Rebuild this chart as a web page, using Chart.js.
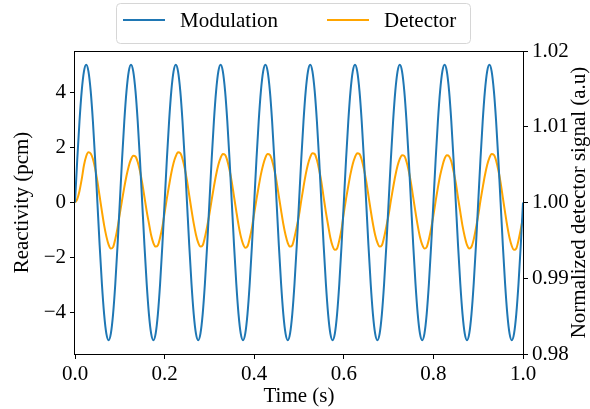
<!DOCTYPE html>
<html>
<head>
<meta charset="utf-8">
<script src="https://cdn.jsdelivr.net/npm/chart.js@4/dist/chart.umd.min.js"></script>
<style>
  html, body { margin: 0; padding: 0; background: #fff; }
</style>
</head>
<body>
<canvas id="chart" width="590" height="409"></canvas>
<script>
// Sampled every 5 ms over 0..1 s.
const SAMPLE_STEP = 0.005;

// Reactivity modulation (pcm).
const modulation = [
	0, 1.55, 2.94, 4.05, 4.76, 5, 4.76, 4.05, 2.94, 1.55, 0, -1.55, -2.94, -4.05, -4.76, -5, -4.76, -4.05, -2.94, -1.55,
	0, 1.55, 2.94, 4.05, 4.76, 5, 4.76, 4.05, 2.94, 1.55, 0, -1.55, -2.94, -4.05, -4.76, -5, -4.76, -4.05, -2.94, -1.55,
	0, 1.55, 2.94, 4.05, 4.76, 5, 4.76, 4.05, 2.94, 1.55, 0, -1.55, -2.94, -4.05, -4.76, -5, -4.76, -4.05, -2.94, -1.55,
	0, 1.55, 2.94, 4.05, 4.76, 5, 4.76, 4.05, 2.94, 1.55, 0, -1.55, -2.94, -4.05, -4.76, -5, -4.76, -4.05, -2.94, -1.55,
	0, 1.55, 2.94, 4.05, 4.76, 5, 4.76, 4.05, 2.94, 1.55, 0, -1.55, -2.94, -4.05, -4.76, -5, -4.76, -4.05, -2.94, -1.55,
	0, 1.55, 2.94, 4.05, 4.76, 5, 4.76, 4.05, 2.94, 1.55, 0, -1.55, -2.94, -4.05, -4.76, -5, -4.76, -4.05, -2.94, -1.55,
	0, 1.55, 2.94, 4.05, 4.76, 5, 4.76, 4.05, 2.94, 1.55, 0, -1.55, -2.94, -4.05, -4.76, -5, -4.76, -4.05, -2.94, -1.55,
	0, 1.55, 2.94, 4.05, 4.76, 5, 4.76, 4.05, 2.94, 1.55, 0, -1.55, -2.94, -4.05, -4.76, -5, -4.76, -4.05, -2.94, -1.55,
	0, 1.55, 2.94, 4.05, 4.76, 5, 4.76, 4.05, 2.94, 1.55, 0, -1.55, -2.94, -4.05, -4.76, -5, -4.76, -4.05, -2.94, -1.55,
	0, 1.55, 2.94, 4.05, 4.76, 5, 4.76, 4.05, 2.94, 1.55, 0, -1.55, -2.94, -4.05, -4.76, -5, -4.76, -4.05, -2.94, -1.55,
	0,
];

// Normalized detector signal (a.u).
const detector = [
	1.00000, 1.00044, 1.00153, 1.00309, 1.00491, 1.00611, 1.00662, 1.00647, 1.00575, 1.00447, 1.00280, 1.00084, 0.99887, 0.99702, 0.99553, 0.99444, 0.99393, 0.99411, 0.99520, 0.99665,
	0.99851, 1.00029, 1.00200, 1.00353, 1.00480, 1.00571, 1.00618, 1.00607, 1.00535, 1.00415, 1.00258, 1.00073, 0.99887, 0.99725, 0.99567, 0.99465, 0.99418, 0.99436, 0.99538, 0.99676,
	0.99865, 1.00051, 1.00225, 1.00389, 1.00520, 1.00611, 1.00662, 1.00651, 1.00575, 1.00451, 1.00287, 1.00095, 0.99902, 0.99724, 0.99575, 0.99469, 0.99418, 0.99436, 0.99542, 0.99684,
	0.99847, 1.00033, 1.00207, 1.00367, 1.00498, 1.00589, 1.00640, 1.00629, 1.00553, 1.00429, 1.00269, 1.00076, 0.99887, 0.99705, 0.99556, 0.99455, 0.99404, 0.99422, 0.99527, 0.99669,
	0.99858, 1.00040, 1.00211, 1.00371, 1.00498, 1.00593, 1.00640, 1.00629, 1.00553, 1.00433, 1.00273, 1.00084, 0.99895, 0.99716, 0.99571, 0.99465, 0.99418, 0.99436, 0.99542, 0.99680,
	0.99833, 1.00025, 1.00204, 1.00371, 1.00505, 1.00600, 1.00651, 1.00640, 1.00560, 1.00433, 1.00269, 1.00069, 0.99873, 0.99700, 0.99535, 0.99426, 0.99375, 0.99393, 0.99502, 0.99647,
	0.99862, 1.00047, 1.00218, 1.00378, 1.00509, 1.00600, 1.00651, 1.00640, 1.00564, 1.00440, 1.00280, 1.00091, 0.99898, 0.99720, 0.99571, 0.99469, 0.99418, 0.99436, 0.99542, 0.99684,
	0.99836, 1.00022, 1.00193, 1.00353, 1.00484, 1.00575, 1.00625, 1.00615, 1.00538, 1.00415, 1.00255, 1.00065, 0.99873, 0.99695, 0.99545, 0.99444, 0.99393, 0.99411, 0.99516, 0.99658,
	0.99829, 1.00018, 1.00196, 1.00356, 1.00480, 1.00578, 1.00625, 1.00611, 1.00542, 1.00411, 1.00258, 1.00062, 0.99876, 0.99691, 0.99549, 0.99440, 0.99393, 0.99415, 0.99513, 0.99662,
	0.99829, 1.00022, 1.00196, 1.00360, 1.00495, 1.00589, 1.00640, 1.00629, 1.00553, 1.00425, 1.00262, 1.00065, 0.99869, 0.99684, 0.99531, 0.99426, 0.99375, 0.99393, 0.99502, 0.99647,
	0.99800,
];

const seriesNames = [ 'Modulation', 'Detector' ];
const seriesColors = [ '#1f77b4', '#ffa500' ];
const xTicks = [ 0, 0.2, 0.4, 0.6, 0.8, 1.0 ];
const leftTicks = [ -4, -2, 0, 2, 4 ];
const rightTicks = [ 0.98, 0.99, 1.00, 1.01, 1.02 ];

const FONT = 'Liberation Serif';
const time = modulation.map( ( _, i ) => i * SAMPLE_STEP );
const minus = ( s ) => String( s ).replace( '-', '\u2212' );

Chart.defaults.font.family = FONT;
Chart.defaults.font.size = 21;
Chart.defaults.color = '#000';

// Matplotlib-style frame, boxed legend and right-hand label (reads bottom to top).
const decorations = {
	id: 'decorations',
	afterDatasetsDraw( chart ) {
		const { ctx, chartArea: a } = chart;
		ctx.save();
		ctx.strokeStyle = '#000';
		ctx.lineWidth = 1;
		ctx.strokeRect( Math.round( a.left ) - 0.5, Math.round( a.top ) + 0.5, Math.round( a.right - a.left ) + 1, Math.round( a.bottom - a.top ) );
		ctx.restore();
	},
	afterDraw( chart ) {
		const { ctx, chartArea: a } = chart;
		ctx.save();

		// legend frame
		const fx = 116.5, fy = 3.5, fw = 354, fh = 40, r = 4;
		ctx.beginPath();
		ctx.moveTo( fx + r, fy );
		ctx.arcTo( fx + fw, fy, fx + fw, fy + fh, r );
		ctx.arcTo( fx + fw, fy + fh, fx, fy + fh, r );
		ctx.arcTo( fx, fy + fh, fx, fy, r );
		ctx.arcTo( fx, fy, fx + fw, fy, r );
		ctx.closePath();
		ctx.fillStyle = 'rgba(255,255,255,0.8)';
		ctx.fill();
		ctx.strokeStyle = '#d6d6d6';
		ctx.lineWidth = 1;
		ctx.stroke();

		const starts = [ 123, 327 ];
		ctx.font = `21px "${ FONT }"`;
		ctx.textBaseline = 'middle';
		ctx.textAlign = 'left';
		chart.data.datasets.forEach( ( ds, i ) => {
			const x = starts[ i ];
			ctx.strokeStyle = ds.borderColor;
			ctx.lineWidth = 2;
			ctx.beginPath();
			ctx.moveTo( x, 20 );
			ctx.lineTo( x + 42, 20 );
			ctx.stroke();
			ctx.fillStyle = '#000';
			ctx.fillText( ds.label, x + 57, 21 );
		} );

		// right axis title
		ctx.translate( 579, ( a.top + a.bottom ) / 2 );
		ctx.rotate( -Math.PI / 2 );
		ctx.textAlign = 'center';
		ctx.fillText( 'Normalized detector signal (a.u)', 0, 0 );
		ctx.restore();
	},
};

const tickGrid = { drawOnChartArea: false, drawTicks: true, tickLength: 5, color: '#000', lineWidth: 1 };

new Chart( document.getElementById( 'chart' ), {
	type: 'line',
	data: {
		datasets: [
			{
				label: seriesNames[ 0 ],
				data: time.map( ( t, i ) => ( { x: t, y: modulation[ i ] } ) ),
				borderColor: seriesColors[ 0 ],
				backgroundColor: seriesColors[ 0 ],
				borderWidth: 2,
				pointRadius: 0,
				cubicInterpolationMode: 'monotone',
				yAxisID: 'y',
			},
			{
				label: seriesNames[ 1 ],
				data: time.map( ( t, i ) => ( { x: t, y: detector[ i ] } ) ),
				borderColor: seriesColors[ 1 ],
				backgroundColor: seriesColors[ 1 ],
				borderWidth: 2,
				pointRadius: 0,
				cubicInterpolationMode: 'monotone',
				yAxisID: 'y1',
			},
		],
	},
	options: {
		responsive: false,
		animation: false,
		events: [],
		layout: { padding: { top: 51, left: 0, right: 0, bottom: 0 } },
		plugins: { legend: { display: false }, tooltip: { enabled: false } },
		scales: {
			x: {
				type: 'linear',
				min: 0,
				max: 1,
				afterFit: ( s ) => { s.height = 55; },
				afterBuildTicks: ( s ) => { s.ticks = xTicks.map( ( v ) => ( { value: v } ) ); },
				ticks: { padding: 3, maxRotation: 0, callback: ( v ) => Number( v ).toFixed( 1 ) },
				grid: tickGrid,
				border: { display: false },
				title: { display: true, text: 'Time (s)', padding: { top: 0, bottom: 0 } },
			},
			y: {
				position: 'left',
				min: -5.5,
				max: 5.5,
				afterFit: ( s ) => { s.width = 75; },
				afterBuildTicks: ( s ) => { s.ticks = leftTicks.map( ( v ) => ( { value: v } ) ); },
				ticks: { padding: 4, callback: ( v ) => minus( v ) },
				grid: tickGrid,
				border: { display: false },
				title: { display: true, text: 'Reactivity (pcm)', padding: { top: 10, bottom: 0 } },
			},
			y1: {
				position: 'right',
				min: 0.98,
				max: 1.02,
				afterFit: ( s ) => { s.width = 67; },
				afterBuildTicks: ( s ) => { s.ticks = rightTicks.map( ( v ) => ( { value: v } ) ); },
				ticks: { padding: 4, callback: ( v ) => Number( v ).toFixed( 2 ) },
				grid: tickGrid,
				border: { display: false },
			},
		},
	},
	plugins: [ decorations ],
} );
</script>
</body>
</html>
